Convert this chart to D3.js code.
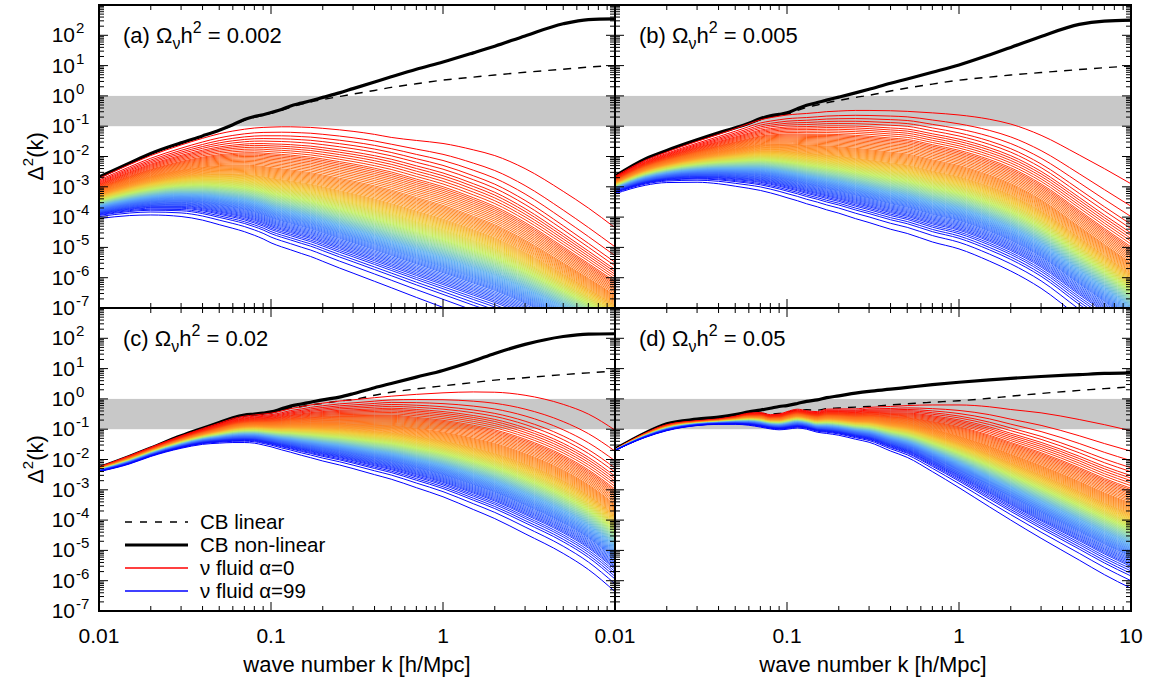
<!DOCTYPE html>
<html><head><meta charset="utf-8">
<script src="https://cdn.jsdelivr.net/npm/d3@7"></script>
<style>body{margin:0;background:#fff} text{font-family:"Liberation Sans",Arial,Helvetica,sans-serif;fill:#000}</style>
</head><body><svg id="chart" width="1155" height="679"></svg>
<script>
// ---- data (log10 of Delta^2(k)) ----
const kGrid = [0.01,0.015,0.02,0.03,0.04,0.05,0.06,0.07,0.08,0.09,0.1,0.115,0.13,0.15,0.17,0.2,0.25,0.3,0.4,0.5,0.7,1,1.5,2,3,5,7,10];

const aLinear    = [-2.69,-2.23,-1.91,-1.56,-1.33,-1.14,-0.97,-0.81,-0.71,-0.64,-0.57,-0.48,-0.38,-0.27,-0.2,-0.12,-0.02,0.06,0.18,0.28,0.4,0.52,0.62,0.69,0.78,0.88,0.95,1.0];
const aNonlinear = [-2.68,-2.22,-1.9,-1.55,-1.32,-1.13,-0.95,-0.78,-0.68,-0.62,-0.55,-0.45,-0.33,-0.24,-0.16,-0.05,0.1,0.24,0.46,0.63,0.88,1.12,1.42,1.64,1.98,2.38,2.52,2.54];
const aNu0       = [-2.72,-2.27,-1.97,-1.62,-1.4,-1.25,-1.16,-1.1,-1.06,-1.04,-1.03,-1.02,-1.02,-1.03,-1.04,-1.07,-1.12,-1.17,-1.27,-1.37,-1.47,-1.57,-1.78,-1.97,-2.4,-3.15,-3.7,-4.35];
const aNu99      = [-4.05,-3.95,-3.93,-3.98,-4.1,-4.25,-4.37,-4.48,-4.6,-4.72,-4.85,-4.98,-5.08,-5.2,-5.3,-5.46,-5.68,-5.85,-6.12,-6.33,-6.65,-6.98,-7.35,-7.6,-8.0,-8.5,-8.8,-9.2];

const bLinear    = [-2.66,-2.09,-1.81,-1.46,-1.23,-1.06,-0.92,-0.78,-0.69,-0.64,-0.6,-0.48,-0.38,-0.3,-0.23,-0.15,-0.05,0.02,0.16,0.26,0.39,0.52,0.62,0.69,0.77,0.87,0.93,0.99];
const bNonlinear = [-2.65,-2.08,-1.8,-1.45,-1.22,-1.05,-0.9,-0.75,-0.66,-0.61,-0.56,-0.42,-0.31,-0.22,-0.14,-0.04,0.1,0.22,0.42,0.56,0.78,1.02,1.35,1.6,1.96,2.36,2.47,2.5];
const bNu0       = [-2.66,-2.12,-1.85,-1.5,-1.27,-1.08,-0.92,-0.79,-0.72,-0.67,-0.63,-0.6,-0.58,-0.55,-0.52,-0.5,-0.48,-0.48,-0.49,-0.51,-0.56,-0.63,-0.77,-0.93,-1.3,-1.95,-2.4,-2.9];
const bNu99      = [-3.23,-2.95,-2.86,-2.85,-2.9,-2.98,-3.05,-3.12,-3.2,-3.28,-3.36,-3.46,-3.56,-3.66,-3.76,-3.87,-4.05,-4.18,-4.4,-4.54,-4.82,-5.05,-5.45,-5.78,-6.35,-7.3,-7.9,-8.6];

const cLinear    = [-2.28,-1.91,-1.63,-1.23,-0.98,-0.79,-0.64,-0.56,-0.53,-0.5,-0.46,-0.38,-0.3,-0.25,-0.2,-0.15,-0.07,-0.02,0.12,0.22,0.33,0.43,0.54,0.62,0.7,0.8,0.86,0.92];
const cNonlinear = [-2.27,-1.9,-1.62,-1.22,-0.97,-0.78,-0.62,-0.53,-0.5,-0.47,-0.43,-0.33,-0.24,-0.17,-0.11,-0.03,0.06,0.17,0.37,0.51,0.72,0.94,1.25,1.5,1.8,2.06,2.14,2.15];
const cNu0       = [-2.25,-1.88,-1.6,-1.22,-0.98,-0.8,-0.65,-0.57,-0.53,-0.5,-0.47,-0.4,-0.32,-0.26,-0.2,-0.14,-0.07,-0.03,0.04,0.09,0.15,0.2,0.23,0.22,0.12,-0.18,-0.5,-1.03];
const cNu99      = [-2.4,-2.15,-1.9,-1.63,-1.5,-1.46,-1.44,-1.44,-1.46,-1.52,-1.58,-1.68,-1.76,-1.86,-1.94,-2.05,-2.18,-2.3,-2.5,-2.65,-2.93,-3.23,-3.65,-3.95,-4.45,-5.1,-5.63,-6.36];

const dLinear    = [-1.67,-1.14,-0.85,-0.7,-0.65,-0.58,-0.5,-0.48,-0.5,-0.48,-0.44,-0.38,-0.36,-0.37,-0.32,-0.3,-0.27,-0.25,-0.2,-0.16,-0.11,-0.06,0.02,0.09,0.18,0.28,0.34,0.4];
const dNonlinear = [-1.66,-1.12,-0.82,-0.67,-0.6,-0.52,-0.43,-0.37,-0.31,-0.25,-0.22,-0.15,-0.08,-0.03,0.04,0.1,0.19,0.25,0.32,0.38,0.47,0.55,0.63,0.68,0.74,0.8,0.84,0.86];
const dNu0       = [-1.67,-1.13,-0.85,-0.72,-0.66,-0.57,-0.47,-0.45,-0.52,-0.5,-0.42,-0.34,-0.39,-0.42,-0.34,-0.33,-0.33,-0.28,-0.25,-0.22,-0.2,-0.2,-0.26,-0.35,-0.46,-0.68,-0.85,-1.05];
const dNu99      = [-1.7,-1.27,-1.05,-0.88,-0.84,-0.84,-0.87,-0.93,-0.99,-1.02,-1.0,-0.96,-1.0,-1.1,-1.14,-1.2,-1.33,-1.43,-1.72,-1.93,-2.4,-2.93,-3.56,-4.0,-4.6,-5.32,-5.8,-6.25];

// relative position of fluid alpha inside the fan (0 = alpha 0 curve, 1 = alpha 99 curve),
// read at intermediate k and at the high-k end
const fanAlpha    = [0,1,2,3,5,10,20,30,40,50,60,70,80,85,90,93,95,97,98,99];
const fanPosLowK  = [0,0.045,0.075,0.1,0.145,0.23,0.35,0.44,0.51,0.575,0.635,0.69,0.75,0.785,0.83,0.86,0.885,0.92,0.95,1];
const fanPosHighK = [0,0.13,0.19,0.235,0.285,0.365,0.46,0.525,0.578,0.624,0.67,0.716,0.769,0.797,0.837,0.862,0.89,0.922,0.952,1];
const fanBlendK   = [0.5, 8];
const nAlpha = 100;

// colour of fluid alpha (alpha/99 -> colour)
const paletteAt  = [0,0.06,0.15,0.28,0.38,0.5,0.6,0.72,0.82,0.92,1];
const paletteHex = ["#ff0000","#ff2a0a","#ff6a1a","#ff9a2a","#f2cc3a","#c4f064","#92dab0","#62b0f4","#4a86ff","#2e52ff","#0000ff"];

const panelIds    = ["a","b","c","d"];
const panelOmegas = ["0.002","0.005","0.02","0.05"];
const xMajor = [0.01,0.1,1,10];
const xLabelsLeft  = ["0.01","0.1","1"];
const xLabelsRight = ["0.01","0.1","1","10"];
const yExps = [-7,-6,-5,-4,-3,-2,-1,0,1,2];
const bandLo = 0.1, bandHi = 1;
const legendLabels = ["CB linear","CB non-linear","ν fluid α=0","ν fluid α=99"];

// ---- layout ----
const colX = [[99,615],[615,1131]];
const rowY = [[5,308],[308,611]];
const series = [
  {lin:aLinear,nl:aNonlinear,nu0:aNu0,nu99:aNu99},
  {lin:bLinear,nl:bNonlinear,nu0:bNu0,nu99:bNu99},
  {lin:cLinear,nl:cNonlinear,nu0:cNu0,nu99:cNu99},
  {lin:dLinear,nl:dNonlinear,nu0:dNu0,nu99:dNu99}
];

const svg = d3.select("#chart");
const color = d3.scaleLinear().domain(paletteAt).range(paletteHex).interpolate(d3.interpolateRgb);
const posLo = d3.scaleLinear().domain(fanAlpha).range(fanPosLowK);
const posHi = d3.scaleLinear().domain(fanAlpha).range(fanPosHighK);
const blendW = d3.scaleLog().domain(fanBlendK).range([0, 1]).clamp(true);
const FS = 21;

panelIds.forEach((id, p) => {
  const col = p % 2, row = Math.floor(p / 2);
  const x = d3.scaleLog().domain([0.01, 10]).range(colX[col]);
  const y = d3.scaleLog().domain([1e-7, 1e3]).range([rowY[row][1], rowY[row][0]]);
  const g = svg.append("g");
  const clipId = "clip" + id;
  svg.append("clipPath").attr("id", clipId).append("rect")
    .attr("x", colX[col][0]).attr("y", rowY[row][0])
    .attr("width", colX[col][1] - colX[col][0]).attr("height", rowY[row][1] - rowY[row][0]);
  const plot = g.append("g").attr("clip-path", `url(#${clipId})`);

  plot.append("rect").attr("x", colX[col][0]).attr("width", colX[col][1] - colX[col][0])
    .attr("y", y(bandHi)).attr("height", y(bandLo) - y(bandHi)).attr("fill", "#c8c8c8");

  const line = d3.line().x(d => x(d[0])).y(d => y(Math.pow(10, d[1]))).curve(d3.curveMonotoneX);
  const s = series[p];
  const pts = arr => kGrid.map((k, i) => [k, arr[i]]);

  plot.append("path").attr("d", line(pts(s.lin))).attr("fill", "none")
    .attr("stroke", "#000").attr("stroke-width", 1.4).attr("stroke-dasharray", "8,7");
  plot.append("path").attr("d", line(pts(s.nl))).attr("fill", "none")
    .attr("stroke", "#000").attr("stroke-width", 3.2);

  for (let a = 0; a < nAlpha; a++) {
    const lo = posLo(a), hi = posHi(a);
    const vals = kGrid.map((k, i) => {
      const w = blendW(k);
      const f = (1 - w) * lo + w * hi;
      return [k, (1 - f) * s.nu0[i] + f * s.nu99[i]];
    });
    plot.append("path").attr("d", line(vals)).attr("fill", "none")
      .attr("stroke", color(a / (nAlpha - 1))).attr("stroke-width", 1);
  }

  // ticks
  const tg = g.append("g").attr("stroke", "#000").attr("stroke-width", 1);
  const [x0, x1] = colX[col], [y0, y1] = rowY[row];
  for (let e = -2; e <= 0; e++) {
    for (let m = 1; m <= 9; m++) {
      const k = m * Math.pow(10, e);
      const L = m === 1 ? 9 : 5;
      const xx = x(k);
      tg.append("line").attr("x1", xx).attr("x2", xx).attr("y1", y1).attr("y2", y1 - L);
      tg.append("line").attr("x1", xx).attr("x2", xx).attr("y1", y0).attr("y2", y0 + L);
    }
  }
  for (let e = -7; e <= 2; e++) {
    for (let m = 1; m <= 9; m++) {
      const v = m * Math.pow(10, e);
      const L = m === 1 ? 9 : 5;
      const yy = y(v);
      tg.append("line").attr("x1", x0).attr("x2", x0 + L).attr("y1", yy).attr("y2", yy);
      tg.append("line").attr("x1", x1).attr("x2", x1 - L).attr("y1", yy).attr("y2", yy);
    }
  }
  g.append("rect").attr("x", x0).attr("y", y0).attr("width", x1 - x0).attr("height", y1 - y0)
    .attr("fill", "none").attr("stroke", "#000").attr("stroke-width", 2);

  // panel label
  const t = g.append("text").attr("x", x0 + 24).attr("y", y0 + 38).attr("font-size", 22);
  t.append("tspan").text(`(${id}) Ω`);
  t.append("tspan").attr("dy", 6).attr("font-size", 16).text("ν");
  t.append("tspan").attr("dy", -6).text("h");
  t.append("tspan").attr("dy", -10).attr("font-size", 16).text("2");
  t.append("tspan").attr("dy", 10).text(` = ${panelOmegas[p]}`);

  if (col === 0) {
    yExps.forEach(e => {
      const yy = y(Math.pow(10, e));
      g.append("text").attr("x", 75).attr("y", yy + 7).attr("text-anchor", "end")
        .attr("font-size", FS).text("10");
      g.append("text").attr("x", 76).attr("y", yy - 2).attr("font-size", 15).text(String(e));
    });
    const yt = g.append("text").attr("transform", `translate(43,${(y0 + y1) / 2}) rotate(-90)`)
      .attr("text-anchor", "middle").attr("font-size", 22);
    yt.append("tspan").text("Δ");
    yt.append("tspan").attr("dy", -10).attr("font-size", 15).text("2");
    yt.append("tspan").attr("dy", 10).text("(k)");
  }
  if (row === 1) {
    const labs = col === 0 ? xLabelsLeft : xLabelsRight;
    labs.forEach((lab, i) => {
      g.append("text").attr("x", x(xMajor[i])).attr("y", 643).attr("text-anchor", "middle")
        .attr("font-size", FS).text(lab);
    });
    g.append("text").attr("x", (x0 + x1) / 2).attr("y", 672).attr("text-anchor", "middle")
      .attr("font-size", 22).text("wave number k [h/Mpc]");
  }

  if (id === "c") {
    const lg = g.append("g");
    const rows = [522, 545, 568, 591];
    const styles = [
      {stroke: "#000", w: 1.4, dash: "7,8"},
      {stroke: "#000", w: 3.2, dash: null},
      {stroke: color(0), w: 1.4, dash: null},
      {stroke: color(1), w: 1.4, dash: null}
    ];
    legendLabels.forEach((lab, i) => {
      const l = lg.append("line").attr("x1", 125).attr("x2", 188).attr("y1", rows[i]).attr("y2", rows[i])
        .attr("stroke", styles[i].stroke).attr("stroke-width", styles[i].w);
      if (styles[i].dash) l.attr("stroke-dasharray", styles[i].dash);
      lg.append("text").attr("x", 200).attr("y", rows[i] + 7).attr("font-size", 20.5).text(lab);
    });
  }
});
</script></body></html>
